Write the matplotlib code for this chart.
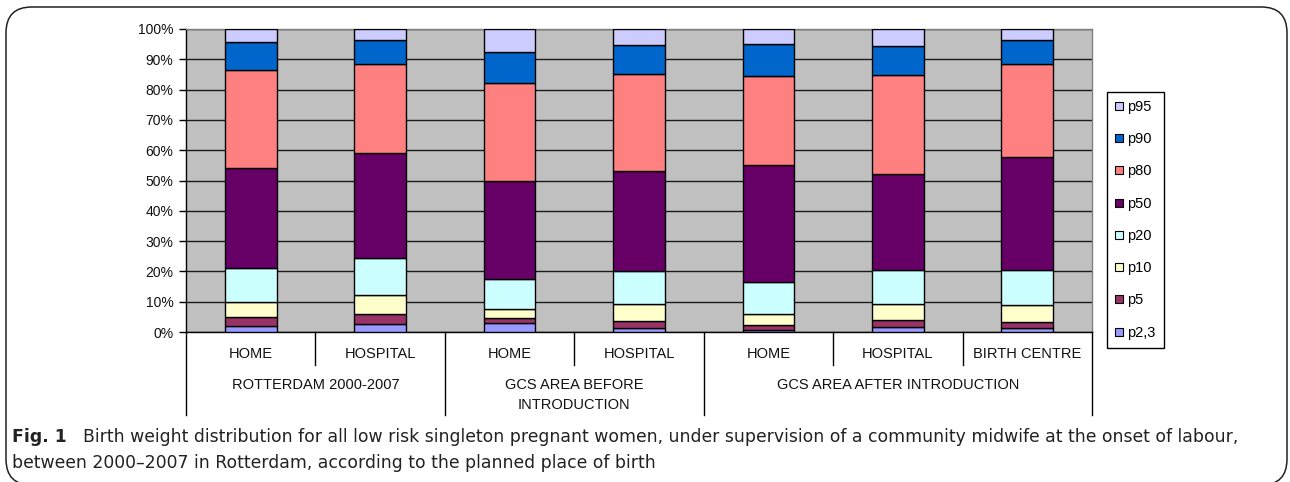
import matplotlib
matplotlib.use("Agg")
import matplotlib.pyplot as plt
from matplotlib.lines import Line2D
from matplotlib.patches import FancyBboxPatch
import matplotlib.transforms as mtransforms
import numpy as np

# ---------------- data ----------------
categories = ["HOME", "HOSPITAL", "HOME", "HOSPITAL", "HOME", "HOSPITAL", "BIRTH CENTRE"]
groups = ["ROTTERDAM 2000-2007", "GCS AREA BEFORE\nINTRODUCTION", "GCS AREA AFTER INTRODUCTION"]
group_sizes = [2, 2, 3]

series_names = ["p2,3", "p5", "p10", "p20", "p50", "p80", "p90", "p95"]
p2_3 = [1.9, 2.6, 3.1, 1.4, 0.7, 1.8, 1.2]
p5   = [3.0, 3.3, 1.4, 2.3, 1.5, 2.3, 2.1]
p10  = [5.0, 6.3, 3.2, 5.4, 3.7, 5.0, 5.5]
p20  = [11.2, 12.2, 9.9, 11.1, 10.6, 11.2, 11.7]
p50  = [33.1, 34.7, 32.2, 33.1, 38.7, 31.7, 37.1]
p80  = [32.2, 29.2, 32.3, 31.9, 29.2, 32.9, 31.0]
p90  = [9.2, 8.0, 10.4, 9.6, 10.8, 9.6, 7.7]
p95  = [4.4, 3.7, 7.5, 5.2, 4.8, 5.5, 3.7]
series_values = [p2_3, p5, p10, p20, p50, p80, p90, p95]
series_colors = ["#9999FF", "#993366", "#FFFFCC", "#CCFFFF", "#660066", "#FF8080", "#0066CC", "#CCCCFF"]

yticks = list(range(0, 101, 10))
ytick_labels = [f"{t}%" for t in yticks]

caption_bold = "Fig. 1"
caption_line1 = ("Birth weight distribution for all low risk singleton pregnant women, under supervision of a "
                 "community midwife at the onset of labour,")
caption_line2 = "between 2000\u20132007 in Rotterdam, according to the planned place of birth"

# ---------------- figure ----------------
W, H = 1290, 482
fig = plt.figure(figsize=(W / 100, H / 100), dpi=100)
fig.patch.set_facecolor("white")

def fx(px):
    return px / W

def fy(py):
    return 1 - py / H

left, right, top, bottom = 186, 1092, 29, 332
ax = fig.add_axes([fx(left), fy(bottom), fx(right - left), (bottom - top) / H])
ax.set_facecolor("#C0C0C0")

x = np.arange(len(categories))
base = np.zeros(len(categories))
for name, vals, col in zip(series_names, series_values, series_colors):
    ax.bar(x, vals, width=0.4, bottom=base, color=col, edgecolor="black", linewidth=1.0, zorder=3)
    base = base + np.array(vals)

ax.set_xlim(-0.5, len(categories) - 0.5)
ax.set_ylim(0, 100)
ax.set_yticks(yticks)
ax.set_yticklabels(ytick_labels, fontsize=10, family="Liberation Sans", color="#111111")
ax.set_xticks([])
ax.yaxis.grid(True, color="#1a1a1a", linewidth=1.0)
ax.set_axisbelow(True)
ax.tick_params(axis="y", length=5, width=1, color="black", pad=4)

for s in ["top", "right"]:
    ax.spines[s].set_color("#808080")
    ax.spines[s].set_linewidth(1.0)
for s in ["left", "bottom"]:
    ax.spines[s].set_color("black")
    ax.spines[s].set_linewidth(1.0)

# ---------------- category axis (two levels) ----------------
trans = mtransforms.blended_transform_factory(ax.transData, fig.transFigure)
y0 = fy(bottom)
y_inner = fy(365)
y_outer = fy(415)

boundaries = [-0.5]
for gs in group_sizes:
    boundaries.append(boundaries[-1] + gs)
group_edges = set(boundaries)
for b in np.arange(-0.5, len(categories), 1.0):
    yb = y_outer if b in group_edges else y_inner
    fig.add_artist(Line2D([b, b], [y0, yb], transform=trans, color="black", linewidth=1.0))

for xi, lab in zip(x, categories):
    fig.text(xi, fy(354), lab, transform=trans, ha="center", va="center",
             fontsize=10.5, family="Liberation Sans", color="#111111")

for i, g in enumerate(groups):
    c = (boundaries[i] + boundaries[i + 1]) / 2
    fig.text(c, fy(378), g, transform=trans, ha="center", va="top",
             fontsize=10.5, family="Liberation Sans", color="#111111", linespacing=1.55)

# ---------------- legend ----------------
handles = [Line2D([], [], marker="s", linestyle="none", markersize=5.5, markerfacecolor=c,
                  markeredgecolor="black", markeredgewidth=0.8)
           for c in series_colors]
leg = fig.legend(handles[::-1], series_names[::-1], loc="upper left",
                 bbox_to_anchor=(fx(1107), fy(92)), frameon=True, fancybox=False,
                 edgecolor="black", framealpha=1, handlelength=0.5, handletextpad=0.35,
                 labelspacing=1.25, borderpad=0.55, borderaxespad=0,
                 prop={"family": "Liberation Sans", "size": 10.5})
leg.get_frame().set_linewidth(1.0)

# ---------------- caption ----------------
fig.text(fx(12), fy(437), caption_bold, ha="left", va="center", fontsize=12.4,
         family="DejaVu Sans", fontweight="bold", color="#222222")
fig.text(fx(83), fy(437), caption_line1, ha="left", va="center", fontsize=12.4,
         family="DejaVu Sans", color="#222222")
fig.text(fx(12), fy(463), caption_line2, ha="left", va="center", fontsize=12.4,
         family="DejaVu Sans", color="#222222")

# ---------------- rounded border ----------------
border = FancyBboxPatch((fx(6), fy(485)), fx(1281), fy(7) - fy(485),
                        boxstyle="round,pad=0,rounding_size=0.02",
                        transform=fig.transFigure, fill=False, edgecolor="#222222",
                        linewidth=1.1, mutation_aspect=W / H)
fig.add_artist(border)

fig.savefig("out.png", dpi=100, facecolor="white")
